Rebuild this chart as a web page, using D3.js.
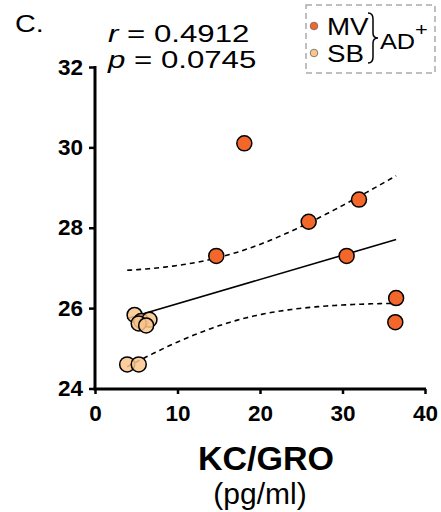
<!DOCTYPE html>
<html><head><meta charset="utf-8">
<script src="https://cdn.jsdelivr.net/npm/d3@7"></script>
<style>body{margin:0;background:#fff}text{font-family:Arial,"Liberation Sans",sans-serif}</style>
</head><body><svg id="c" width="441" height="512"></svg>
<script>
const mvX = [18.1, 14.7, 25.9, 32.0, 30.5, 36.5, 36.4];
const mvY = [30.1, 27.3, 28.15, 28.7, 27.3, 26.25, 25.65];
const sbX = [4.8, 5.6, 6.6, 5.3, 6.2, 3.9, 5.3];
const sbY = [25.83, 25.68, 25.71, 25.62, 25.57, 24.6, 24.6];
const xTicks = [0, 10, 20, 30, 40];
const yTicks = [24, 26, 28, 30, 32];
const statR = "0.4912", statP = "0.0745";
const tCrit = 2.179; // t(0.975, df=12)

const svg = d3.select("#c");
const x = d3.scaleLinear().domain([0, 40]).range([95, 425]);
const y = d3.scaleLinear().domain([24, 32]).range([388.5, 67]);

// axes
const xa = svg.append("g").attr("transform", "translate(0,389)")
  .call(d3.axisBottom(x).tickValues(xTicks).tickSize(5).tickPadding(11));
const ya = svg.append("g").attr("transform", "translate(95,0)")
  .call(d3.axisLeft(y).tickValues(yTicks).tickSize(6).tickPadding(6));
[xa, ya].forEach(a => {
  a.select(".domain").attr("stroke", "#000").attr("stroke-width", 3);
  a.selectAll(".tick line").attr("stroke", "#000").attr("stroke-width", 2.5);
  a.selectAll(".tick text").attr("font-size", 22.5).attr("font-weight", "bold").attr("fill", "#000")
   .style("font-family", "Arial, 'Liberation Sans', sans-serif");
});
xa.select(".domain").attr("d", `M${x(0) - 1.5},0H${x(40) + 1}`);
ya.select(".domain").attr("d", `M0,${y(24) + 1.5}V${y(32) - 1}`);

// regression + 95% CI
const allX = mvX.concat(sbX), allY = mvY.concat(sbY), n = allX.length;
const mx = d3.mean(allX), my = d3.mean(allY);
let sxx = 0, sxy = 0;
allX.forEach((v, i) => { sxx += (v - mx) ** 2; sxy += (v - mx) * (allY[i] - my); });
const b = sxy / sxx, a0 = my - b * mx;
let sse = 0; allX.forEach((v, i) => { sse += (allY[i] - (a0 + b * v)) ** 2; });
const s = Math.sqrt(sse / (n - 2));
const xmin = d3.min(allX), xmax = d3.max(allX);
const xs = d3.range(0, 101).map(i => xmin + (xmax - xmin) * i / 100);
const hw = v => tCrit * s * Math.sqrt(1 / n + (v - mx) ** 2 / sxx);
const line = d3.line().x(d => x(d[0])).y(d => y(d[1]));
[1, -1].forEach(sg => {
  svg.append("path").attr("d", line(xs.map(v => [v, a0 + b * v + sg * hw(v)])))
    .attr("fill", "none").attr("stroke", "#000").attr("stroke-width", 1.6).attr("stroke-dasharray", "5,4");
});
svg.append("path").attr("d", line([[xmin, a0 + b * xmin], [xmax, a0 + b * xmax]]))
  .attr("fill", "none").attr("stroke", "#000").attr("stroke-width", 1.6);

// points
const MV_COL = "#F4672B", SB_COL = "#FAC68C";
svg.append("g").selectAll("circle").data(sbX.map((v, i) => [v, sbY[i]])).join("circle")
  .attr("cx", d => x(d[0])).attr("cy", d => y(d[1])).attr("r", 7.5)
  .attr("fill", SB_COL).attr("fill-opacity", 0.85).attr("stroke", "#000").attr("stroke-width", 1.5);
svg.append("g").selectAll("circle").data(mvX.map((v, i) => [v, mvY[i]])).join("circle")
  .attr("cx", d => x(d[0])).attr("cy", d => y(d[1])).attr("r", 7.5)
  .attr("fill", MV_COL).attr("stroke", "#000").attr("stroke-width", 1.5);

// axis titles
svg.append("text").attr("x", 266).attr("y", 470).attr("text-anchor", "middle")
  .attr("font-size", 34).attr("font-weight", "bold").text("KC/GRO");
svg.append("text").attr("x", 260).attr("y", 504).attr("text-anchor", "middle")
  .attr("font-size", 30).text("(pg/ml)");

// panel label and stats (horizontally stretched like the reference)
svg.append("text").attr("transform", "translate(15,32) scale(1.2,1)").attr("font-size", 24).text("C.");
const t1 = svg.append("text").attr("transform", "translate(108,42) scale(1.3,1)").attr("font-size", 24);
t1.append("tspan").attr("font-style", "italic").text("r");
t1.append("tspan").text(" = " + statR);
const t2 = svg.append("text").attr("transform", "translate(108,68) scale(1.3,1)").attr("font-size", 24);
t2.append("tspan").attr("font-style", "italic").text("p");
t2.append("tspan").text(" = " + statP);

// legend
svg.append("rect").attr("x", 306).attr("y", 5).attr("width", 129).attr("height", 68)
  .attr("fill", "none").attr("stroke", "#aaa").attr("stroke-width", 1.5).attr("stroke-dasharray", "6,4");
const legend = [["MV", MV_COL], ["SB", SB_COL]];
legend.forEach((d, i) => {
  svg.append("circle").attr("cx", 314).attr("cy", 26 + i * 27).attr("r", 3.8)
    .attr("fill", d[1]).attr("stroke", "#666").attr("stroke-width", 0.8);
  svg.append("text").attr("transform", `translate(327,${35 + i * 27}) scale(1.18,1)`)
    .attr("font-size", 23.5).text(d[0]);
});
const bx = 368, by0 = 13, by1 = 63, bm = (by0 + by1) / 2, w = 5;
svg.append("path").attr("fill", "none").attr("stroke", "#000").attr("stroke-width", 1.5)
  .attr("d", `M${bx},${by0} Q${bx + w},${by0} ${bx + w},${by0 + 6} L${bx + w},${bm - 5} Q${bx + w},${bm} ${bx + 2 * w},${bm} Q${bx + w},${bm} ${bx + w},${bm + 5} L${bx + w},${by1 - 6} Q${bx + w},${by1} ${bx},${by1}`);
const ad = svg.append("text").attr("transform", "translate(380,49) scale(1.15,1)").attr("font-size", 22);
ad.append("tspan").text("AD");
ad.append("tspan").attr("font-size", 19).attr("dy", -13).text("+");
</script></body></html>
